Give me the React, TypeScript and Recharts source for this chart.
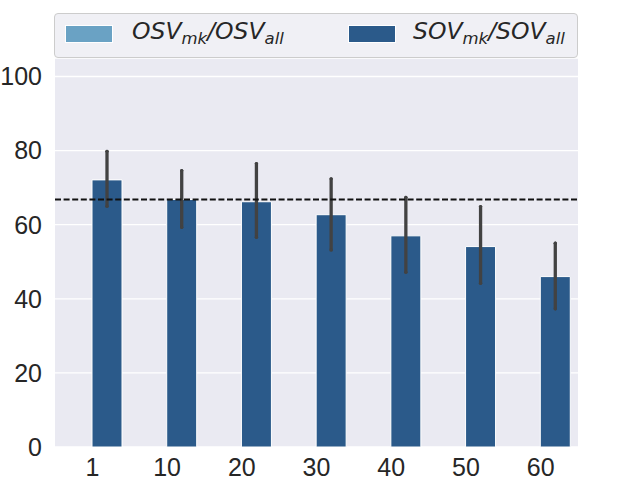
import React from 'react'
import { BarChart, Bar, XAxis, YAxis, CartesianGrid, ErrorBar, ReferenceLine } from 'recharts'

const categories = ['1', '10', '20', '30', '40', '50', '60']
const sovValues = [72.1, 66.8, 66.2, 62.7, 57.0, 54.1, 46.0]
const sovLow = [65.0, 59.3, 56.6, 53.2, 47.2, 44.2, 37.3]
const sovHigh = [79.8, 74.6, 76.5, 72.4, 67.4, 64.9, 55.0]
const osvValues: (number | null)[] = [null, null, null, null, null, null, null]
const yTicks = [0, 20, 40, 60, 80, 100]
const baseline = 66.8

const data = categories.map((c, i) => ({
  cat: c,
  osv: osvValues[i],
  sov: sovValues[i],
  sovErr: [sovValues[i] - sovLow[i], sovHigh[i] - sovValues[i]]
}))

const tickFont = { fontSize: 25, fontFamily: '"Liberation Sans", Arial, sans-serif', fill: '#262626' }

function Label({ a }: { a: string }) {
  const sub = { fontSize: 16.5, position: 'relative' as const, top: 5 }
  return (
    <span style={{ fontStyle: 'italic', fontFamily: '"DejaVu Sans", sans-serif', fontSize: 23.5, color: '#262626' }}>
      {a}<span style={sub}>mk</span>/{a}<span style={sub}>all</span>
    </span>
  )
}

const legendItems = [
  { name: 'OSV', color: '#6AA2C4', x: 10, tx: 77 },
  { name: 'SOV', color: '#2B5A8A', x: 293, tx: 358 }
]

export default function App() {
  return (
    <div style={{ position: 'absolute', left: 0, top: 0, width: 640, height: 480, background: '#fff' }}>
      <BarChart
        width={640}
        height={480}
        data={data}
        margin={{ top: 58, right: 62, left: 0, bottom: 0 }}
        barSize={30}
        barGap={0}
      >
        <CartesianGrid vertical={false} stroke="#fff" strokeWidth={1.3} fill="#EAEAF2" />
        <XAxis
          dataKey="cat"
          height={33}
          axisLine={false}
          tickLine={false}
          tickSize={0}
          tickMargin={11}
          tick={tickFont}
        />
        <YAxis
          width={55}
          domain={[0, 105]}
          ticks={yTicks}
          axisLine={false}
          tickLine={false}
          tickSize={0}
          tickMargin={13}
          tick={tickFont}
        />
        <Bar dataKey="osv" fill="#6AA2C4" stroke="#fff" strokeWidth={1} isAnimationActive={false} />
        <Bar dataKey="sov" fill="#2B5A8A" stroke="#fff" strokeWidth={1} isAnimationActive={false}>
          <ErrorBar dataKey="sovErr" width={0} stroke="#424242" strokeWidth={3.3} strokeLinecap="round" />
        </Bar>
        <ReferenceLine y={baseline} stroke="#111" strokeWidth={1.8} strokeDasharray="6 2.6" />
      </BarChart>
      <div
        style={{
          position: 'absolute',
          left: 54,
          top: 13,
          width: 522,
          height: 43,
          background: 'rgba(238,238,244,0.9)',
          border: '1px solid #cccccc',
          borderRadius: 4
        }}
      >
        {legendItems.map((it) => (
          <React.Fragment key={it.name}>
            <div
              style={{
                position: 'absolute',
                left: it.x,
                top: 11,
                width: 46,
                height: 16,
                background: it.color,
                border: '1px solid #fff'
              }}
            />
            <div style={{ position: 'absolute', left: it.tx, top: 3, whiteSpace: 'nowrap', lineHeight: '28px' }}>
              <Label a={it.name} />
            </div>
          </React.Fragment>
        ))}
      </div>
    </div>
  )
}
